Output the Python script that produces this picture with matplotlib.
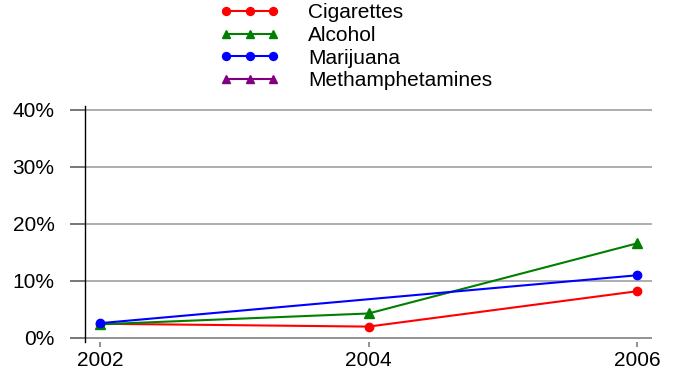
import matplotlib
matplotlib.use("Agg")
import matplotlib.pyplot as plt
import numpy as np

plt.rcParams['font.family'] = ['Liberation Sans', 'DejaVu Sans']

years = [2002, 2004, 2006]
cig_years = [2002, 2004, 2006]
cigarettes = [2.5, 2.0, 8.2]
alc_years = [2002, 2004, 2006]
alcohol = [2.4, 4.3, 16.6]
mar_years = [2002, 2006]
marijuana = [2.6, 11.0]
meth_years = []
meth = []
yticks = [0, 10, 20, 30, 40]
ytick_labels = ['0%', '10%', '20%', '30%', '40%']

fig = plt.figure(figsize=(6.73, 3.71), dpi=100)
ax = fig.add_axes([85/673, 1-341.7/371, (652-85)/673, (341.7-106)/371])

for y in yticks:
    ax.axhline(y, color='#a0a0a0' if y else '#808080', lw=1.2, zorder=0)

ax.plot(cig_years, cigarettes, color='#ff0000', marker='o', ms=6, lw=1.5, label='Cigarettes', zorder=3)
ax.plot(alc_years, alcohol, color='#008000', marker='^', ms=6.5, lw=1.5, label='Alcohol', zorder=3)
ax.plot(mar_years, marijuana, color='#0000ff', marker='o', ms=6, lw=1.5, label='Marijuana', zorder=3)
ax.plot(meth_years, meth, color='#800080', marker='^', ms=6.5, lw=1.5, label='Methamphetamines', zorder=3)

ax.set_xlim(2002 - 15/134.25, 2006 + 15/134.25)
ax.set_ylim(-0.65, 40.7)
ax.set_xticks(years)
ax.set_xticklabels([str(y) for y in years])
ax.set_yticks(yticks)
ax.set_yticklabels(ytick_labels)

for s in ['top', 'right', 'bottom']:
    ax.spines[s].set_visible(False)
ax.spines['left'].set_color('black')
ax.spines['left'].set_linewidth(1.0)

ax.tick_params(axis='y', length=11, width=1.2, color='#606060', pad=11, labelsize=15)
ax.tick_params(axis='x', length=3.6, width=1.2, color='#808080', pad=3, labelsize=15)

fig.legend(loc='upper left', bbox_to_anchor=(218/673, 1 - 1/371), frameon=False,
           numpoints=3, handlelength=2.84, handletextpad=1.4, labelspacing=0.18,
           fontsize=15, markerscale=0.95, borderpad=0.1, borderaxespad=0)

fig.savefig('out.png', dpi=100)
